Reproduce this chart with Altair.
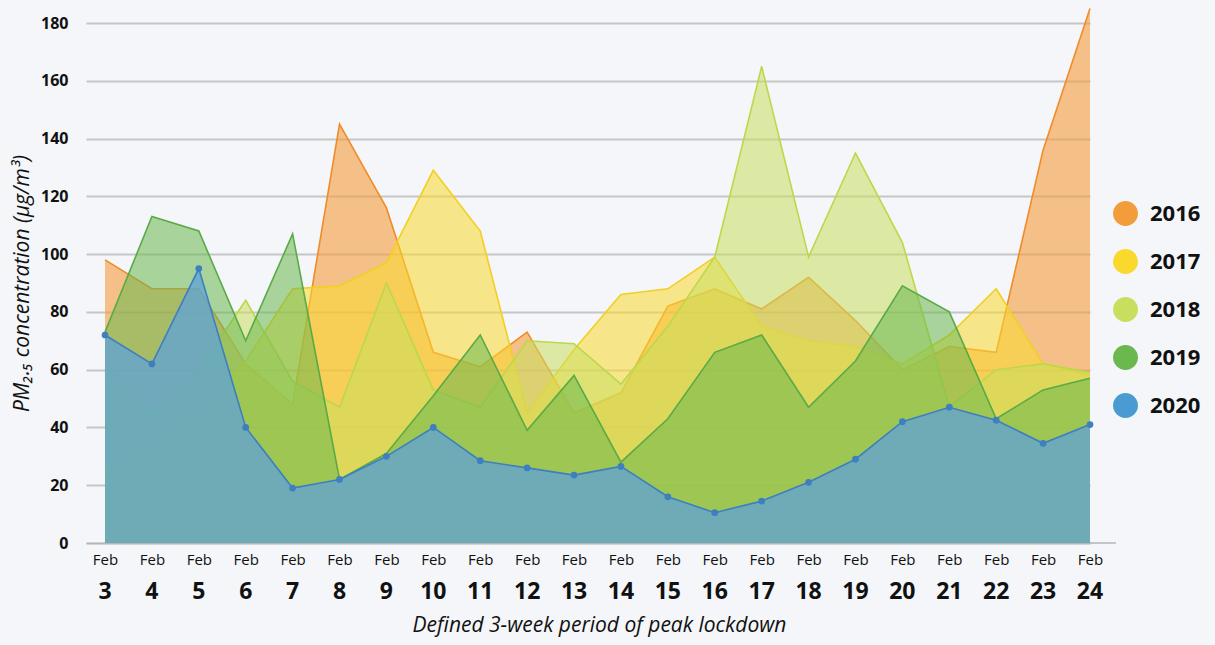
import altair as alt
import pandas as pd

days = list(range(3, 25))
years = ["2016", "2017", "2018", "2019", "2020"]

v2016 = [98, 88, 88, 62, 48, 145, 116, 66, 61, 73, 45, 52, 82, 88, 81, 92, 77, 60, 68, 66, 136, 185]
v2017 = [26, 35, 45, 63, 88, 89, 97, 129, 108, 45, 67, 86, 88, 99, 75, 70, 68, 62, 72, 88, 62, 58]
v2018 = [60, 45, 60, 84, 56, 47, 90, 53, 47, 70, 69, 55, 75, 99, 165, 99, 135, 104, 47, 60, 62, 59]
v2019 = [73, 113, 108, 70, 107, 22, 31, 51, 72, 39, 58, 28, 43, 66, 72, 47, 63, 89, 80, 43, 53, 57]
v2020 = [72, 62, 95, 40, 19, 22, 30, 40, 28.5, 26, 23.5, 26.5, 16, 10.5, 14.5, 21, 29, 42, 47, 42.5, 34.5, 41]

series = {"2016": v2016, "2017": v2017, "2018": v2018, "2019": v2019, "2020": v2020}

fill_colors = ["#F39C3B", "#F9D92E", "#C8DE5E", "#6AB84E", "#4A9BD2"]
area_fills = {"2016": "#F39C3B", "2017": "#F9D92E", "2018": "#C8DE5E", "2019": "#6AB84E", "2020": "#5FA3D6"}
stroke_colors = {"2016": "#F08C28", "2017": "#F2CF22", "2018": "#BCD84A", "2019": "#5AAA46", "2020": "#3E7FC0"}
opacities = {"2016": 0.6, "2017": 0.55, "2018": 0.55, "2019": 0.55, "2020": 0.76}

FONT = "Open Sans"
BG = "#F4F6F9"

rows = []
for yr in years:
    for d, v in zip(days, series[yr]):
        rows.append({"year": yr, "day": d, "value": v})
df = pd.DataFrame(rows)

xenc = alt.X("day:Q",
             scale=alt.Scale(domain=[2.595, 24], nice=False, zero=False),
             axis=alt.Axis(values=days, labelExpr="'Feb'", labelFontSize=15, labelFont=FONT,
                           labelColor="#111", ticks=False, grid=False, labelPadding=9,
                           labelFlush=False, labelOverlap=False,
                           domainColor="#B5B5B5", domainWidth=1.5,
                           title="Defined 3-week period of peak lockdown",
                           titleFont=FONT, titleFontSize=21, titleFontStyle="italic",
                           titleFontWeight="normal", titleColor="#111",
                           titleX=513, titleY=82, titleBaseline="middle"))
yenc = alt.Y("value:Q",
             scale=alt.Scale(domain=[0, 185.2], nice=False),
             axis=alt.Axis(values=list(range(0, 181, 20)), labelFontSize=16, labelFontWeight="bold",
                           labelFont=FONT, labelColor="#111", ticks=False, domain=False,
                           labelPadding=18, gridColor="#C6C6C6", gridWidth=2,
                           title="PM₂.₅ concentration (µg/m³)",
                           titleFont=FONT, titleFontSize=21, titleFontStyle="italic",
                           titleFontWeight="normal", titleColor="#111",
                           titleX=-64, titleY=275, titleBaseline="middle"))

color = alt.Color("year:N", scale=alt.Scale(domain=years, range=fill_colors),
                  legend=alt.Legend(title=None, orient="none", legendX=1027, legendY=193,
                                    symbolType="circle", symbolSize=620, symbolOpacity=1,
                                    symbolStrokeWidth=0, labelFontSize=22, labelFontWeight="bold",
                                    labelFont=FONT, labelColor="#111", rowPadding=23,
                                    labelOffset=12, padding=0))

layers = []
for yr in years:
    d = df[df["year"] == yr]
    area = alt.Chart(d).mark_area(opacity=opacities[yr], fill=area_fills[yr]).encode(x=xenc, y=yenc, color=color)
    line = alt.Chart(d).mark_line(color=stroke_colors[yr], strokeWidth=1.6).encode(x=xenc, y=yenc)
    layers += [area, line]

pts = alt.Chart(df[df["year"] == "2020"]).mark_point(filled=True, size=45, color="#3E7FC0", opacity=1).encode(x=xenc, y=yenc)

nums = alt.Chart(pd.DataFrame({"day": days})).mark_text(
    fontSize=23, fontWeight="bold", font=FONT, color="#111", baseline="middle"
).encode(x=alt.X("day:Q"), y=alt.value(584), text=alt.Text("day:N"))

ext = alt.Chart(pd.DataFrame({"a": [0]})).mark_rule(color="#B5B5B5", strokeWidth=1.5).encode(
    x=alt.value(1004), x2=alt.value(1030), y=alt.value(535))

chart = alt.layer(*layers, pts, nums, ext).properties(
    width=1004, height=535,
    autosize=alt.AutoSizeParams(type="none"),
    padding={"left": 78, "top": 0, "right": 115, "bottom": 94},
    background=BG,
).configure_view(stroke=None)

chart.save("out.html", embed_options={"renderer": "svg", "actions": False})

with open("out.html", encoding="utf-8") as f:
    html = f.read()
html = html.replace("<head>", "<head><style>html,body{background:%s;}</style>" % BG, 1)
with open("out.html", "w", encoding="utf-8") as f:
    f.write(html)
